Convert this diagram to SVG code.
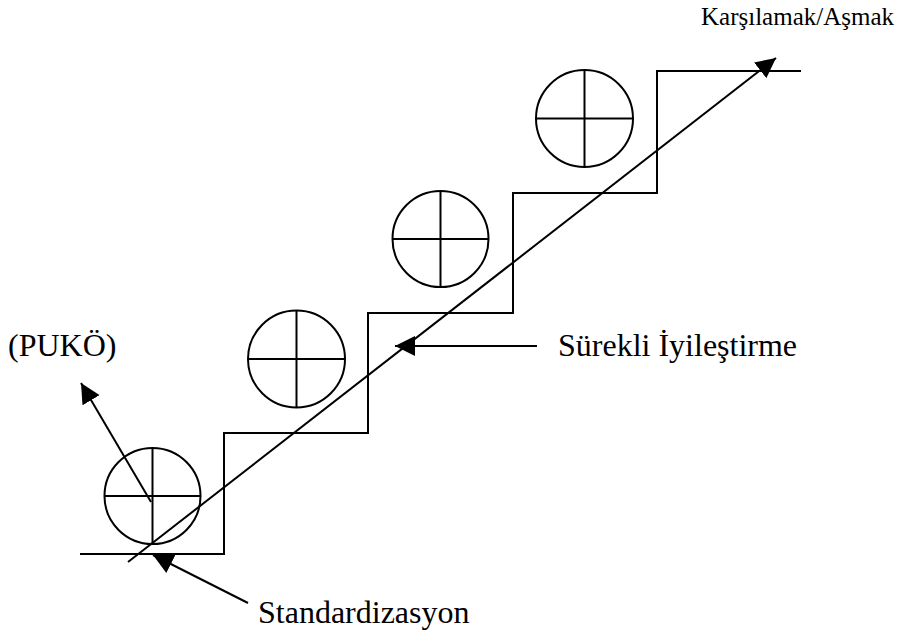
<svg xmlns="http://www.w3.org/2000/svg" width="911" height="641" viewBox="0 0 911 641">
<style>
.ln{fill:none;stroke:#000;stroke-width:2}
.tx{font-family:"Liberation Serif","Times New Roman",serif;fill:#000}
</style>
<defs>
<marker id="ah" viewBox="0 0 20 20" refX="20" refY="10" markerWidth="20" markerHeight="20" markerUnits="userSpaceOnUse" orient="auto">
<path d="M0,0 L20,10 L0,20 Z" fill="#000"/>
</marker>
</defs>
<rect width="911" height="641" fill="#fff"/>
<g id="stairs">
<path class="ln" d="M80,554 H224 V433 H368 V313 H513 V193 H657 V71 H801"/>
</g>
<g id="pdca1">
<circle class="ln" cx="152.5" cy="496" r="48"/>
<path class="ln" d="M104.5,496 H200.5 M152.5,448 V544"/>
</g>
<g id="pdca2">
<circle class="ln" cx="296.5" cy="359" r="48.5"/>
<path class="ln" d="M248,359 H345 M296.5,310.5 V407.5"/>
</g>
<g id="pdca3">
<circle class="ln" cx="440.5" cy="239" r="48"/>
<path class="ln" d="M392.5,239 H488.5 M440.5,191 V287"/>
</g>
<g id="pdca4">
<circle class="ln" cx="584.5" cy="118.5" r="48.5"/>
<path class="ln" d="M536,118.5 H633 M584.5,70 V167"/>
</g>
<g id="connectors">
<line class="ln" x1="128" y1="562" x2="776" y2="58" marker-end="url(#ah)"/>
<line class="ln" x1="537" y1="346" x2="395" y2="346" marker-end="url(#ah)"/>
<line class="ln" x1="248" y1="603" x2="153" y2="555" marker-end="url(#ah)"/>
<line class="ln" x1="151" y1="502" x2="81" y2="383" marker-end="url(#ah)"/>
</g>
<g id="labels">
<text class="tx" x="701" y="25" font-size="25">Karşılamak/Aşmak</text>
<text class="tx" x="558" y="356" font-size="32">Sürekli İyileştirme</text>
<text class="tx" x="258" y="623" font-size="32">Standardizasyon</text>
<text class="tx" x="8" y="356" font-size="32">(PUKÖ)</text>
</g>
</svg>
